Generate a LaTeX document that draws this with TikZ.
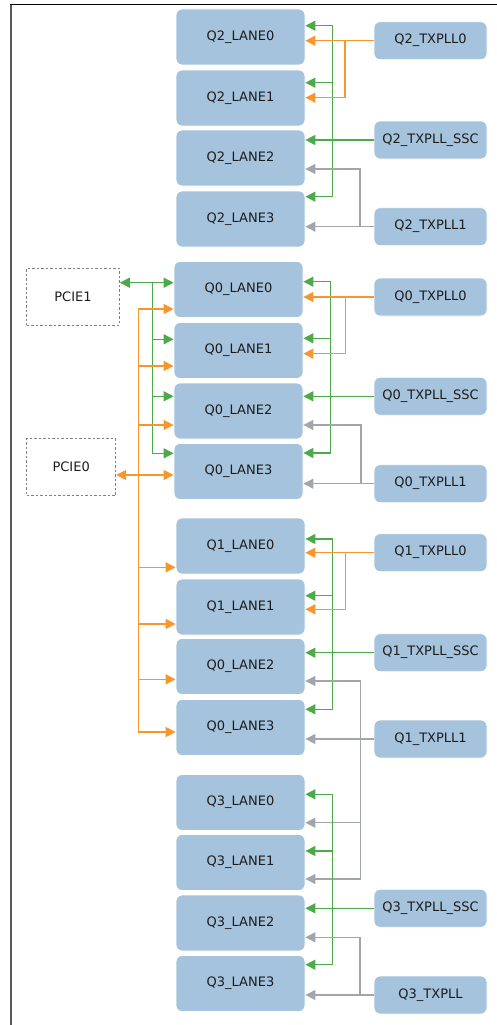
\documentclass[tikz,border=0pt]{standalone}
\usepackage{fontspec}
\setmainfont{DejaVu Sans}
\usetikzlibrary{arrows.meta}
\definecolor{lanefill}{RGB}{165,195,220}
\definecolor{grnline}{RGB}{76,170,72}
\definecolor{orgline}{RGB}{247,150,45}
\definecolor{gryline}{RGB}{162,166,171}
\definecolor{txtcol}{RGB}{28,28,28}

\begin{document}
\begin{tikzpicture}[x=1pt,y=1pt,yscale=-1,xscale=1,
    lane/.style={fill=lanefill,draw=white,line width=0.8,rounded corners=6,minimum width=129,minimum height=56,inner sep=0,text=txtcol,font=\fontsize{13}{15}\selectfont},
    pll/.style={lane,minimum width=113,minimum height=38},
    pcie/.style={draw=gray,dash pattern=on 2.5pt off 2pt,line width=1,minimum height=57,inner sep=0,text=txtcol,font=\fontsize{13}{15}\selectfont},
    grn/.style={color=grnline,line width=1.4},
    org/.style={color=orgline,line width=1.4},
    gry/.style={color=gryline,line width=1.4},
    arw/.style={-{Triangle[length=10pt,width=10pt]}},
    dbl/.style={{Triangle[length=10pt,width=10pt]}-{Triangle[length=10pt,width=10pt]}}]
    \useasboundingbox (0,0) rectangle (497,1025);

    %Straight Lines: frame
    \draw [black,line width=1]    (10,5) -- (497,5) ;
    \draw [black!65,line width=1.6]    (11,5) -- (11,1025) ;

    % Lane nodes
    \node [lane] (q2l0) at (240.5,37) {Q2\_LANE0};
    \node [lane] (q2l1) at (240.5,98) {Q2\_LANE1};
    \node [lane] (q2l2) at (240.5,158) {Q2\_LANE2};
    \node [lane] (q2l3) at (240.5,219) {Q2\_LANE3};

    \node [lane] (q0l0) at (238.5,289.5) {Q0\_LANE0};
    \node [lane] (q0l1) at (238.5,350.5) {Q0\_LANE1};
    \node [lane] (q0l2) at (238.5,411) {Q0\_LANE2};
    \node [lane] (q0l3) at (238.5,471.5) {Q0\_LANE3};

    \node [lane] (q1l0) at (240.5,546) {Q1\_LANE0};
    \node [lane] (q1l1) at (240.5,607) {Q1\_LANE1};
    \node [lane] (q1l2) at (240.5,666.5) {Q0\_LANE2};
    \node [lane] (q1l3) at (240.5,727.5) {Q0\_LANE3};

    \node [lane] (q3l0) at (240.5,802.5) {Q3\_LANE0};
    \node [lane] (q3l1) at (240.5,862.5) {Q3\_LANE1};
    \node [lane] (q3l2) at (240.5,923) {Q3\_LANE2};
    \node [lane] (q3l3) at (240.5,983.5) {Q3\_LANE3};

    % PLL nodes
    \node [pll] (q2pll0) at (430.5,40.7) {Q2\_TXPLL0};
    \node [pll] (q2ssc) at (430.5,140) {Q2\_TXPLL\_SSC};
    \node [pll] (q2pll1) at (430.5,226.7) {Q2\_TXPLL1};

    \node [pll] (q0pll0) at (430.5,297) {Q0\_TXPLL0};
    \node [pll] (q0ssc) at (430.5,396.3) {Q0\_TXPLL\_SSC};
    \node [pll] (q0pll1) at (430.5,483.7) {Q0\_TXPLL1};

    \node [pll] (q1pll0) at (430.5,552.7) {Q1\_TXPLL0};
    \node [pll] (q1ssc) at (430.5,652.7) {Q1\_TXPLL\_SSC};
    \node [pll] (q1pll1) at (430.5,739) {Q1\_TXPLL1};

    \node [pll] (q3ssc) at (430.5,908.3) {Q3\_TXPLL\_SSC};
    \node [pll] (q3pll) at (430.5,995) {Q3\_TXPLL};

    % PCIE nodes
    \node [pcie,minimum width=92.6] (pcie1) at (73,296.8) {PCIE1};
    \node [pcie,minimum width=89] (pcie0) at (71.2,467) {PCIE0};

    %Connectors: Q2
    \draw [grn,dbl] (q2l0.east |- 0,25.7) -| (332.7,196.7) -- (q2l3.east |- 0,196.7) ;
    \draw [grn,arw] (332.7,82.7) -- (q2l1.east |- 0,82.7) ;
    \draw [grn,arw] (q2ssc.west) -- (q2ssc.west -| q2l2.east) ;
    \draw [org,arw] (q2pll0.west) -- (q2pll0.west -| q2l0.east) ;
    \draw [org,arw] (q2pll0.west -| 345,0) |- (q2l1.east |- 0,97.7) ;
    \draw [gry,arw] (q2pll1.west) -- (q2pll1.west -| q2l3.east) ;
    \draw [gry,arw] (q2pll1.west -| 360,0) |- (q2l2.east |- 0,169) ;

    %Connectors: Q0
    \draw [grn,dbl] (q0l0.east |- 0,281.7) -| (330.7,453) -- (q0l3.east |- 0,453) ;
    \draw [grn,arw] (330.7,338.3) -- (q0l1.east |- 0,338.3) ;
    \draw [grn,arw] (q0ssc.west) -- (q0ssc.west -| q0l2.east) ;
    \draw [org,arw] (q0pll0.west) -- (q0pll0.west -| q0l0.east) ;
    \draw [org,arw] (q0pll0.west -| 345.7,0) |- (q0l1.east |- 0,353.7) ;
    \draw [gry,arw] (q0pll1.west) -- (q0pll1.west -| q0l3.east) ;
    \draw [gry,arw] (q0pll1.west -| 361,0) |- (q0l2.east |- 0,425) ;

    %Connectors: PCIE1 (green)
    \draw [grn,dbl] (pcie1.east |- 0,282.7) -- (q0l0.west |- 0,282.7) ;
    \draw [grn,arw] (152.7,282.7) |- (q0l3.west |- 0,453.3) ;
    \draw [grn,arw] (152.7,339.3) -- (q0l1.west |- 0,339.3) ;
    \draw [grn,arw] (152.7,396.3) -- (q0l2.west |- 0,396.3) ;

    %Connectors: PCIE0 (orange)
    \draw [org,dbl] (pcie0.east |- 0,475) -- (q0l3.west |- 0,475) ;
    \draw [org,dbl] (q0l0.west |- 0,309) -| (138.5,732) -- (q1l3.west |- 0,732) ;
    \draw [org,arw] (138.5,366) -- (q0l1.west |- 0,366) ;
    \draw [org,arw] (138.5,425) -- (q0l2.west |- 0,425) ;
    \draw [org,arw] (138.5,567.3) -- (q1l0.west |- 0,567.3) ;
    \draw [org,arw] (138.5,624) -- (q1l1.west |- 0,624) ;
    \draw [org,arw] (138.5,679.3) -- (q1l2.west |- 0,679.3) ;

    %Connectors: Q1
    \draw [grn,dbl] (q1l0.east |- 0,539) -| (332.3,709.3) -- (q1l3.east |- 0,709.3) ;
    \draw [grn,arw] (332.3,595.7) -- (q1l1.east |- 0,595.7) ;
    \draw [grn,arw] (q1ssc.west) -- (q1ssc.west -| q1l2.east) ;
    \draw [org,arw] (q1pll0.west) -- (q1pll0.west -| q1l0.east) ;
    \draw [org,arw] (q1pll0.west -| 345.3,0) |- (q1l1.east |- 0,609.3) ;
    \draw [gry,arw] (q1pll1.west) -- (q1pll1.west -| q1l3.east) ;
    \draw [gry,dbl] (q1l2.east |- 0,681) -| (360.7,879) -- (q3l1.east |- 0,879) ;
    \draw [gry,arw] (360.7,822.7) -- (q3l0.east |- 0,822.7) ;

    %Connectors: Q3
    \draw [grn,dbl] (q3l0.east |- 0,794.3) -| (332.7,964.7) -- (q3l3.east |- 0,964.7) ;
    \draw [grn,arw] (332.7,851) -- (q3l1.east |- 0,851) ;
    \draw [grn,arw] (q3ssc.west) -- (q3ssc.west -| q3l2.east) ;
    \draw [gry,arw] (q3pll.west) -- (q3pll.west -| q3l3.east) ;
    \draw [gry,arw] (q3pll.west -| 360,0) |- (q3l2.east |- 0,937.3) ;

\end{tikzpicture}
\end{document}
